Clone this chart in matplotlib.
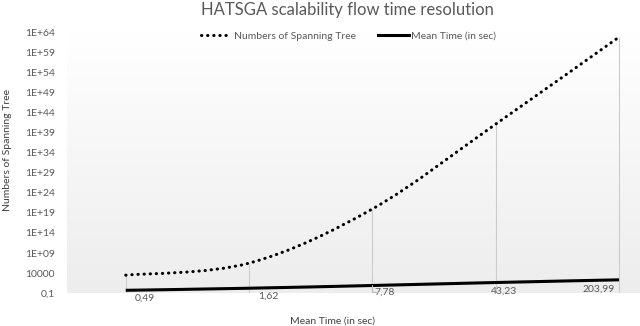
import numpy as np
import matplotlib
matplotlib.use("Agg")
import matplotlib.pyplot as plt
from matplotlib.path import Path
from matplotlib.patches import PathPatch
from matplotlib.lines import Line2D

plt.rcParams['font.family'] = ['Lato', 'DejaVu Sans']

# data
mean_time = [0.49, 1.62, 7.78, 43.23, 203.99]
time_labels = ["0,49", "1,62", "7,78", "43,23", "203,99"]
spanning_trees = [3e3, 3e6, 1e20, 1.5e41, 8e62]
ytick_values = [1e-1, 1e4, 1e9, 1e14, 1e19, 1e24, 1e29, 1e34, 1e39, 1e44, 1e49, 1e54, 1e59, 1e64]
ytick_labels = ["0,1", "10000", "1E+09", "1E+14", "1E+19", "1E+24", "1E+29", "1E+34",
                "1E+39", "1E+44", "1E+49", "1E+54", "1E+59", "1E+64"]

TXT = "#595959"


def smooth_path(xs, ys):
    # Excel-like smoothed line: Catmull-Rom segments as cubic beziers (in log space)
    p = np.column_stack([xs, np.log10(ys)])
    p = np.vstack([p[0], p, p[-1]])
    verts = [p[1]]
    codes = [Path.MOVETO]
    for i in range(1, len(p) - 2):
        c1 = p[i] + (p[i + 1] - p[i - 1]) / 6
        c2 = p[i + 1] - (p[i + 2] - p[i]) / 6
        verts += [c1, c2, p[i + 1]]
        codes += [Path.CURVE4] * 3
    verts = np.array(verts)
    verts[:, 1] = 10 ** verts[:, 1]
    return Path(verts, codes)


fig = plt.figure(figsize=(6.4, 3.26), dpi=100)
ax = fig.add_axes([0.104, 0.101, 0.896, 0.7988])

x = np.arange(len(mean_time))
ax.set_yscale("log")
ax.set_ylim(1e-1, 1e64)
ax.set_xlim(-0.48, 4.17)

# gradient background of the plot area
grad = np.linspace(1, 0, 256).reshape(-1, 1)
ax.imshow(grad, extent=[0, 1, 0, 1], transform=ax.transAxes, aspect="auto",
          cmap=plt.matplotlib.colors.LinearSegmentedColormap.from_list("g", ["#ededed", "#ffffff"]),
          vmin=0, vmax=1, zorder=0)

# drop lines
ax.vlines(x, 1e-1, spanning_trees, color="#cccccc", lw=0.8, zorder=1)

dotted = PathPatch(smooth_path(x, spanning_trees), fill=False, edgecolor="black",
                   lw=2.2, linestyle=(0, (0.1, 1.9)), capstyle="round", zorder=3)
ax.add_patch(dotted)
solid = PathPatch(smooth_path(x, mean_time), fill=False, edgecolor="black",
                  lw=2.2, zorder=3)
ax.add_patch(solid)

# data labels for the mean time
offsets = [(14, -6), (14, -6), (9, -5), (6, -6), (-15, -7)]
for i, (lab, off) in enumerate(zip(time_labels, offsets)):
    ax.annotate(lab, (x[i], mean_time[i]), xytext=off, textcoords="offset points",
                ha="center", va="center", fontsize=7.5, color=TXT)
# leader for the 7,78 label
ax.annotate("", (x[2], mean_time[2]), xytext=(4, -5), textcoords="offset points",
            arrowprops=dict(arrowstyle="-", color="#bbbbbb", lw=0.8,
                            connectionstyle="angle,angleA=0,angleB=90,rad=0",
                            shrinkA=0, shrinkB=0))

ax.set_yticks(ytick_values)
ax.set_yticklabels(ytick_labels)
ax.minorticks_off()
ax.set_xticks([])
ax.tick_params(axis="y", length=0, pad=8.4, labelsize=7.5, labelcolor=TXT)
for s in ax.spines.values():
    s.set_visible(False)

handles = [Line2D([], [], color="black", lw=2.2, linestyle=(0, (0.1, 1.9)),
                  dash_capstyle="round"),
           Line2D([], [], color="black", lw=2.2)]
fig.legend(handles, ["Numbers of Spanning Tree", "Mean Time (in sec)"],
           loc="center", bbox_to_anchor=(348.5 / 640, 1 - 36 / 326), ncol=2,
           frameon=False, fontsize=7.5, handlelength=2.9, handletextpad=0.2,
           columnspacing=2.2, labelcolor=TXT)

fig.text(347 / 640, 1 - 10 / 326, "HATSGA scalability flow time resolution",
         ha="center", va="center", fontsize=12, color=TXT)
fig.text(333 / 640, 1 - 321 / 326, "Mean Time (in sec)", ha="center", va="center",
         fontsize=7.5, color="#404040")
fig.text(8 / 640, 1 - 150 / 326, "Numbers of Spanning Tree", ha="center", va="center",
         rotation=90, fontsize=7.5, color="#404040")

fig.savefig("out.png", dpi=100)
